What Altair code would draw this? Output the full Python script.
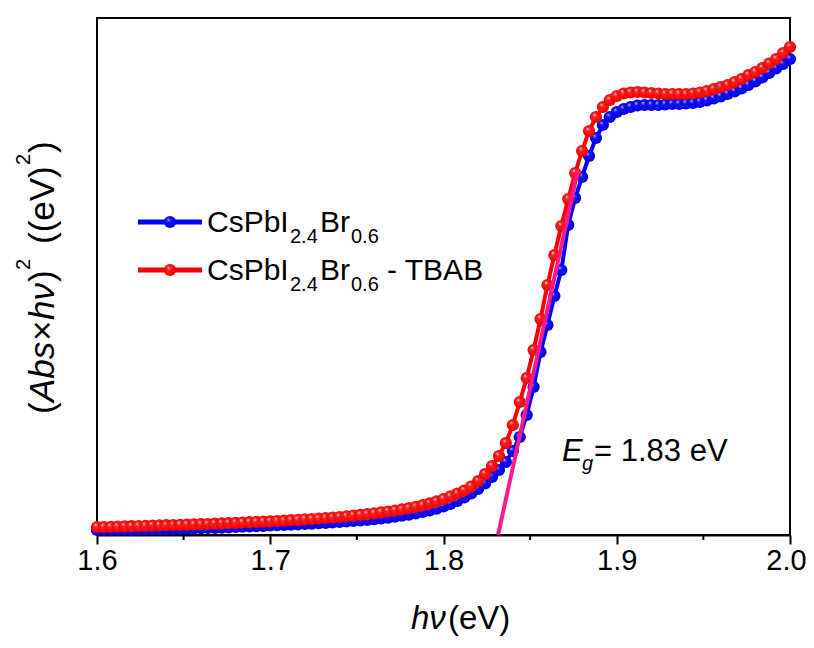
import altair as alt
import pandas as pd

# ---------------- data ----------------
energy = [round(1.6 + 0.004 * i, 3) for i in range(101)]  # photon energy grid, eV

# CsPbI2.4Br0.6 (blue), arbitrary units
pristine = [
    5, 5, 5.1, 5.2, 5.3, 5.4, 5.5, 5.6, 5.7, 5.8,
    5.9, 6, 6.2, 6.4, 6.6, 6.8, 7, 7.2, 7.4, 7.7,
    8, 8.3, 8.6, 8.9, 9.2, 9.5, 9.8, 10.1, 10.4, 10.7,
    11, 11.4, 11.8, 12.2, 12.6, 13, 13.5, 14, 14.6, 15.2,
    15.9, 16.6, 17.4, 18.3, 19.3, 20.4, 21.6, 23, 24.6, 26.4,
    28.5, 31, 34, 37.5, 41.5, 46, 51.5, 58, 65, 73,
    84, 98, 120, 148, 183, 210, 239, 265, 310, 337,
    358, 379, 397, 410, 418, 423, 426, 428, 429.5, 430,
    430, 430, 430.5, 431, 431, 431.5, 432, 433, 434.5, 436.5,
    438.5, 441, 443.5, 446.5, 450, 453.5, 457.5, 462, 466.5, 471,
    476,
]

# CsPbI2.4Br0.6 - TBAB (red), arbitrary units
tbab = [
    8, 8, 8.2, 8.4, 8.6, 8.8, 9, 9.2, 9.4, 9.6,
    9.8, 10, 10.2, 10.4, 10.6, 10.8, 11, 11.3, 11.6, 11.9,
    12.2, 12.5, 12.8, 13.1, 13.4, 13.7, 14, 14.4, 14.8, 15.2,
    15.6, 16, 16.5, 17, 17.5, 18, 18.7, 19.4, 20.1, 20.9,
    21.7, 22.6, 23.5, 24.5, 25.6, 26.8, 28.2, 29.8, 31.6, 33.6,
    36, 38.6, 41.4, 44.5, 48.5, 54, 61, 69, 79, 92,
    110, 133, 157, 185, 216, 250, 280, 309, 336, 362,
    384, 404, 418, 428, 435, 439, 441.5, 442.5, 443, 442.5,
    442, 441.5, 441, 441, 441, 441, 441.5, 442.5, 444, 446,
    448, 450, 453, 456, 460, 463, 467, 471.5, 476, 482,
    488,
]

# linear fit of the absorption edge (Eg = 1.83 eV)
tangent_x = [1.8315, 1.8776]
tangent_y = [0, 365]

x_ticks = [1.6, 1.7, 1.8, 1.9, 2.0]
minor_ticks = [1.65, 1.75, 1.85, 1.95]

# ---------------- chart ----------------
FONT = "Liberation Sans"
W, H = 693, 517
BLUE = "#0000ff"
RED = "#ff0000"
PINK = "#ff1a8c"

xs = alt.Scale(domain=[1.6, 2.0], nice=False, zero=False)
ys = alt.Scale(domain=[0, 517], nice=False, zero=False)


def sphere(light, mid, dark):
    return {
        "gradient": "radial",
        "x1": 0.36, "y1": 0.3, "r1": 0,
        "x2": 0.5, "y2": 0.5, "r2": 0.55,
        "stops": [
            {"offset": 0, "color": light},
            {"offset": 0.28, "color": mid},
            {"offset": 1, "color": dark},
        ],
    }


RED_BALL = sphere("#ffe4e4", "#ff2020", "#e80000")
BLUE_BALL = sphere("#d0d0ff", "#1414ff", "#0000d8")

df_b = pd.DataFrame({"e": energy, "v": pristine})
df_r = pd.DataFrame({"e": energy, "v": tbab})
df_t = pd.DataFrame({"e": tangent_x, "v": tangent_y})
df_m = pd.DataFrame({"e": minor_ticks})
one = pd.DataFrame({"k": [0]})

x_axis = alt.Axis(
    values=x_ticks, format=".1f", title=None, grid=False,
    labelFont=FONT, labelFontSize=29, labelColor="black", labelPadding=2,
    labelFlush=False, tickSize=9, tickWidth=2, tickColor="black",
    domainColor="black", domainWidth=2,
    labelOffset={"condition": {"test": "datum.value >= 1.99", "value": -4}, "value": 0},
)

X = alt.X("e:Q", scale=xs, axis=x_axis)
Y = alt.Y("v:Q", scale=ys, axis=None)

MS = 150

blue_line = alt.Chart(df_b).mark_line(color=BLUE, strokeWidth=4).encode(x=X, y=Y)
blue_pts = alt.Chart(df_b).mark_circle(size=MS, opacity=1, fill=BLUE_BALL).encode(x=X, y=Y)
red_line = alt.Chart(df_r).mark_line(color=RED, strokeWidth=4).encode(x=X, y=Y)
red_pts = alt.Chart(df_r).mark_circle(size=MS, opacity=1, fill=RED_BALL).encode(x=X, y=Y)
fit = alt.Chart(df_t).mark_line(color=PINK, strokeWidth=4).encode(x=X, y=Y)

minor = alt.Chart(df_m).mark_rule(color="black", strokeWidth=2).encode(
    x=X, y=alt.value(H), y2=alt.value(H + 5)
)


def txt(s, x, y, size, italic=False, angle=0):
    kw = dict(text=s, font=FONT, fontSize=size, align="left",
              baseline="alphabetic", color="black",
              fontStyle="italic" if italic else "normal")
    if angle:
        kw["angle"] = angle
    return alt.Chart(one).mark_text(**kw).encode(x=alt.value(x), y=alt.value(y))


layers = [blue_line, blue_pts, red_line, red_pts, fit, minor]

# legend
for yy, col, ball in [(204, BLUE, BLUE_BALL), (252, RED, RED_BALL)]:
    layers.append(alt.Chart(one).mark_rule(color=col, strokeWidth=5).encode(
        x=alt.value(41), x2=alt.value(105), y=alt.value(yy)))
    layers.append(alt.Chart(one).mark_circle(size=MS, opacity=1, fill=ball).encode(
        x=alt.value(73), y=alt.value(yy)))
    base = yy + 10
    layers += [
        txt("CsPbI", 110, base, 30),
        txt("2.4", 193, base + 11, 20),
        txt("Br", 223, base, 30),
        txt("0.6", 254, base + 11, 20),
    ]
layers.append(txt("- TBAB", 290, 262, 30))

# Eg annotation
layers += [
    txt("E", 465, 443, 31, italic=True),
    txt("g", 485, 452, 20, italic=True),
    txt("= 1.83 eV", 497, 443, 31),
]

# x title
layers += [
    txt("hν", 314, 611, 33, italic=True),
    txt("(eV)", 351, 611, 33),
]

# y title (rotated)
YB, YS = -43, -67
layers += [
    txt("(", YB, 396, 35, angle=270),
    txt("Abs", YB, 384, 35, italic=True, angle=270),
    txt("×", YB, 323, 35, angle=270),
    txt("hν", YB, 302, 35, italic=True, angle=270),
    txt(")", YB, 264, 35, angle=270),
    txt("2", YS, 252, 20, angle=270),
    txt("((eV)", YB, 226, 35, angle=270),
    txt("2", YS, 147, 20, angle=270),
    txt(")", YB, 135, 35, angle=270),
]

chart = alt.layer(*layers).properties(
    width=W, height=H,
    autosize=alt.AutoSizeParams(type="none"),
    padding={"left": 89, "top": 10, "right": 16, "bottom": 105},
    background="white",
).configure_view(stroke="black", strokeWidth=2)

chart.save("out.html", embed_options={"renderer": "svg", "actions": False})
